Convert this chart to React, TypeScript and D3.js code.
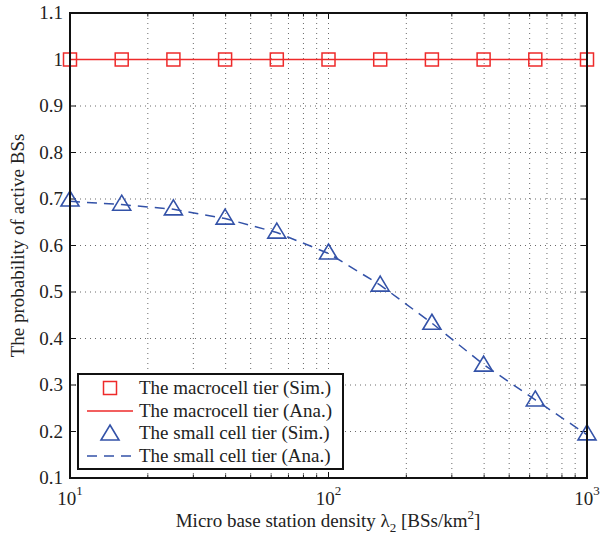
import React from 'react';
import * as d3 from 'd3';

// x: micro BS density (BSs/km^2), log-spaced samples
const densities = [10, 15.85, 25.12, 39.81, 63.1, 100, 158.5, 251.2, 398.1, 631, 1000];
const macroSim = [1, 1, 1, 1, 1, 1, 1, 1, 1, 1, 1];
const macroAna = [1, 1, 1, 1, 1, 1, 1, 1, 1, 1, 1];
const smallSim = [0.7, 0.691, 0.681, 0.661, 0.631, 0.586, 0.517, 0.435, 0.345, 0.27, 0.197];
const smallAna = [0.695, 0.688, 0.678, 0.658, 0.628, 0.583, 0.515, 0.433, 0.344, 0.268, 0.193];
const yTicks = [0.1, 0.2, 0.3, 0.4, 0.5, 0.6, 0.7, 0.8, 0.9, 1, 1.1];
const xMajor = [10, 100, 1000];
const legendLabels = [
    'The macrocell tier (Sim.)',
    'The macrocell tier (Ana.)',
    'The small cell tier (Sim.)',
    'The small cell tier (Ana.)'
];

const RED = '#ee2a2a';
const BLUE = '#3352a8';
const FONT = '"Liberation Serif", "Times New Roman", serif';

const left = 70, right = 587, top = 13, bottom = 478;

function Triangle({ x, y }: { x: number, y: number }) {
    const w = 9, h = 14;
    return (
        <path d={`M${x},${y - h / 2 - 1}L${x + w},${y + h / 2}L${x - w},${y + h / 2}Z`}
            fill="none" stroke={BLUE} strokeWidth={1.6} />
    );
}

function Square({ x, y }: { x: number, y: number }) {
    const s = 13;
    return <rect x={x - s / 2} y={y - s / 2} width={s} height={s} fill="none" stroke={RED} strokeWidth={1.5} />;
}

export default function App() {
    const x = d3.scaleLog().domain([10, 1000]).range([left, right]);
    const y = d3.scaleLinear().domain([0.1, 1.1]).range([bottom, top]);

    const xMinor: number[] = [];
    [10, 100].forEach(d => { for (let k = 2; k <= 9; k++) xMinor.push(d * k); });

    const line = d3.line<[number, number]>().x(d => x(d[0])).y(d => y(d[1]));
    const macroPath = line(densities.map((d, i) => [d, macroAna[i]]));
    const smallPath = line(densities.map((d, i) => [d, smallAna[i]]));

    const lg = { x: 78, y: 374, w: 265, h: 95 };
    const rowY = [388, 411, 433, 456];

    return (
        <svg width={608} height={540} style={{ position: 'absolute', left: 0, top: 0, fontFamily: FONT }}>
            <rect x={0} y={0} width={608} height={540} fill="#fff" />
            {/* grid */}
            <g stroke="#444" strokeWidth={0.8} strokeDasharray="1,4">
                {yTicks.slice(1, -1).map(t => (
                    <line key={'gy' + t} x1={left} x2={right} y1={y(t)} y2={y(t)} />
                ))}
                {[...xMinor, 100].map(t => (
                    <line key={'gx' + t} x1={x(t)} x2={x(t)} y1={top} y2={bottom} />
                ))}
            </g>
            {/* ticks */}
            <g stroke="#111" strokeWidth={1}>
                {yTicks.map(t => (
                    <g key={'ty' + t}>
                        <line x1={left} x2={left + 6} y1={y(t)} y2={y(t)} />
                        <line x1={right} x2={right - 6} y1={y(t)} y2={y(t)} />
                    </g>
                ))}
                {xMajor.map(t => (
                    <g key={'tx' + t}>
                        <line x1={x(t)} x2={x(t)} y1={bottom} y2={bottom - 6} />
                        <line x1={x(t)} x2={x(t)} y1={top} y2={top + 6} />
                    </g>
                ))}
                {xMinor.map(t => (
                    <g key={'tm' + t}>
                        <line x1={x(t)} x2={x(t)} y1={bottom} y2={bottom - 3.5} />
                        <line x1={x(t)} x2={x(t)} y1={top} y2={top + 3.5} />
                    </g>
                ))}
            </g>
            {/* tick labels */}
            <g fontSize={19} fill="#222">
                {yTicks.map(t => (
                    <text key={'ly' + t} x={left - 7} y={y(t) + 6} textAnchor="end">{d3.format('~g')(t)}</text>
                ))}
                {xMajor.map(t => (
                    <text key={'lx' + t} x={x(t)} y={505} textAnchor="middle">
                        10<tspan dy={-10} fontSize={13}>{Math.round(Math.log10(t))}</tspan>
                    </text>
                ))}
            </g>
            {/* series */}
            <path d={macroPath || ''} fill="none" stroke={RED} strokeWidth={1.3} />
            {densities.map((d, i) => <Square key={'sq' + i} x={x(d)} y={y(macroSim[i])} />)}
            <path d={smallPath || ''} fill="none" stroke={BLUE} strokeWidth={1.5} strokeDasharray="10,7" />
            {densities.map((d, i) => <Triangle key={'tr' + i} x={x(d)} y={y(smallSim[i])} />)}
            {/* axes box */}
            <rect x={left} y={top} width={right - left} height={bottom - top} fill="none" stroke="#111" strokeWidth={2} />
            {/* legend */}
            <rect x={lg.x} y={lg.y} width={lg.w} height={lg.h} fill="#fff" stroke="#111" strokeWidth={2} />
            <Square x={110} y={rowY[0]} />
            <line x1={87} x2={133} y1={rowY[1]} y2={rowY[1]} stroke={RED} strokeWidth={1.3} />
            <Triangle x={110} y={rowY[2]} />
            <line x1={87} x2={133} y1={rowY[3]} y2={rowY[3]} stroke={BLUE} strokeWidth={1.5} strokeDasharray="10,7" />
            <g fontSize={19} fill="#222">
                {legendLabels.map((l, i) => (
                    <text key={l} x={139} y={rowY[i] + 6}>{l}</text>
                ))}
            </g>
            {/* axis titles */}
            <text x={328} y={527} textAnchor="middle" fontSize={19} fill="#222">
                Micro base station density λ<tspan dy={5} fontSize={13}>2</tspan>
                <tspan dy={-5}> [BSs/km</tspan><tspan dy={-8} fontSize={13}>2</tspan><tspan dy={8}>]</tspan>
            </text>
            <text transform={`translate(24, ${(top + bottom) / 2}) rotate(-90)`} textAnchor="middle" fontSize={19} fill="#222">
                The probability of active BSs
            </text>
        </svg>
    );
}
